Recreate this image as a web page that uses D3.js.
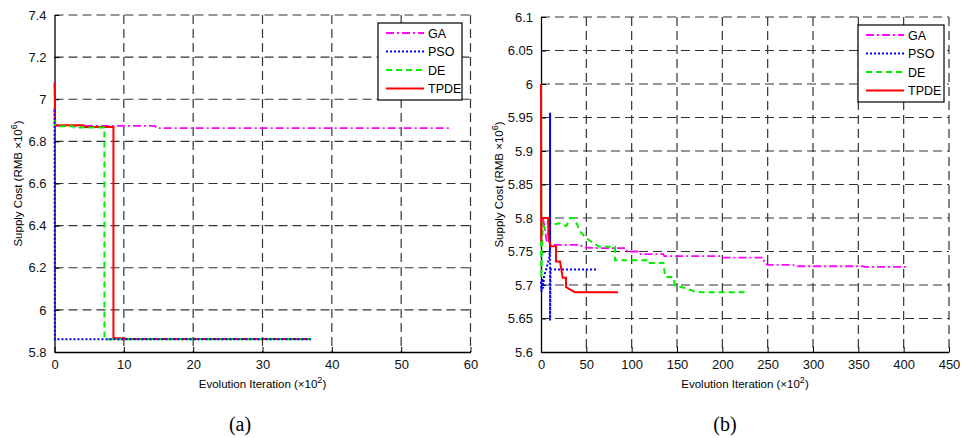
<!DOCTYPE html>
<html>
<head>
<meta charset="utf-8">
<script src="https://cdnjs.cloudflare.com/ajax/libs/d3/7.8.5/d3.min.js"></script>
<style>
  body { margin: 0; background: #fff; }
</style>
</head>
<body>
<div id="chart"></div>
<script>
// series names, in legend order
const seriesNames = ['GA', 'PSO', 'DE', 'TPDE'];

// panel (a) tick values
const xTicksA = [0, 10, 20, 30, 40, 50, 60];
const yTicksA = [5.8, 6, 6.2, 6.4, 6.6, 6.8, 7, 7.2, 7.4];

// panel (a) convergence traces [iteration x100, cost x10^6]
const gaA   = [[0, 6.96], [0.1, 6.874], [14.5, 6.874], [14.7, 6.863], [57, 6.863]];
const psoA  = [[0, 6.95], [0.05, 5.861], [37, 5.861]];
const deA   = [[0, 6.90], [0.1, 6.872], [2.7, 6.872], [2.8, 6.866], [7.2, 6.866], [7.2, 5.861], [37, 5.861]];
const tpdeA = [[0, 7.08], [0.1, 6.876], [4.2, 6.876], [4.3, 6.868], [8.5, 6.868], [8.5, 5.865], [10, 5.865], [10, 5.862], [37, 5.862]];

// panel (b) tick values
const xTicksB = [0, 50, 100, 150, 200, 250, 300, 350, 400, 450];
const yTicksB = [5.6, 5.65, 5.7, 5.75, 5.8, 5.85, 5.9, 5.95, 6, 6.05, 6.1];

// panel (b) convergence traces
const gaB = [[2, 5.80], [4, 5.787], [6, 5.767], [8, 5.762], [13, 5.760], [43, 5.760], [47, 5.756],
  [65, 5.755], [94, 5.755], [95, 5.750], [109, 5.750], [110, 5.746], [135, 5.746], [136, 5.743],
  [199, 5.743], [200, 5.741], [245, 5.741], [247, 5.732], [250, 5.730], [278, 5.730], [280, 5.728],
  [355, 5.728], [357, 5.727], [404, 5.727]];
const psoB = [[0, 5.705], [0.5, 5.69], [1.5, 5.71], [2.5, 5.695], [3.5, 5.715], [5, 5.72], [7, 5.73],
  [9, 5.74], [10, 5.757], [10, 5.957], [10, 5.647], [10.5, 5.723], [63, 5.723]];
const deB = [[0, 5.90], [0.3, 5.71], [1, 5.75], [2, 5.79], [4, 5.785], [6, 5.79], [8, 5.795],
  [12, 5.79], [20, 5.792], [28, 5.788], [32, 5.80], [36, 5.80], [40, 5.79], [43, 5.78], [50, 5.77],
  [58, 5.762], [65, 5.757], [81.6, 5.757], [81.6, 5.737], [118, 5.737], [118, 5.733], [135, 5.733],
  [137, 5.712], [145.6, 5.712], [148, 5.699], [160, 5.695], [168, 5.691], [178, 5.689], [228, 5.689]];
const tpdeB = [[0, 6.0], [0.2, 5.765], [0.6, 5.80], [8, 5.80], [8, 5.775], [9, 5.765], [11, 5.758],
  [16.5, 5.758], [16.5, 5.735], [21, 5.735], [23.9, 5.711], [27.6, 5.711], [27.6, 5.697], [30, 5.695],
  [37.5, 5.689], [85, 5.689]];

const styles = {
  GA:   { color: '#ff00ff', dash: '8,3,2,3', width: 1.8 },
  PSO:  { color: '#0000ff', dash: '2,2', width: 2 },
  DE:   { color: '#00ee00', dash: '6,4', width: 2 },
  TPDE: { color: '#ff0000', dash: null, width: 2 }
};

const sans = 'Arial, "Liberation Sans", sans-serif';

const svg = d3.select('#chart').append('svg')
  .attr('width', 962)
  .attr('height', 438)
  .style('font-family', sans);

function drawPanel(p) {
  const x = d3.scaleLinear().domain(d3.extent(p.xTicks)).range([p.left, p.right]);
  const y = d3.scaleLinear().domain(d3.extent(p.yTicks)).range([p.bottom, p.top]);
  const g = svg.append('g');

  // dashed grid
  g.selectAll('.vg').data(p.xTicks.slice(1)).enter().append('line')
    .attr('x1', d => x(d)).attr('x2', d => x(d))
    .attr('y1', p.top).attr('y2', p.bottom)
    .attr('stroke', '#333').attr('stroke-width', 1.2).attr('stroke-dasharray', '9,5');
  g.selectAll('.hg').data(p.yTicks.slice(1)).enter().append('line')
    .attr('x1', p.left).attr('x2', p.right)
    .attr('y1', d => y(d)).attr('y2', d => y(d))
    .attr('stroke', '#333').attr('stroke-width', 1.2).attr('stroke-dasharray', '9,5');

  // axes, ticks pointing inwards
  const xAxis = d3.axisBottom(x).tickValues(p.xTicks).tickSizeInner(-5).tickSizeOuter(0).tickPadding(8);
  const yAxis = d3.axisLeft(y).tickValues(p.yTicks).tickSizeInner(-5).tickSizeOuter(0).tickPadding(8)
    .tickFormat(d => String(+d.toFixed(2)));
  const gx = g.append('g').attr('transform', `translate(0,${p.bottom})`).call(xAxis);
  const gy = g.append('g').attr('transform', `translate(${p.left},0)`).call(yAxis);
  [gx, gy].forEach(a => {
    a.attr('font-family', sans);
    a.selectAll('text').attr('font-size', 13).attr('fill', '#111');
    a.select('.domain').attr('stroke', '#000').attr('stroke-width', 1.3);
    a.selectAll('.tick line').attr('stroke', '#000');
  });

  // series
  const line = d3.line().x(d => x(d[0])).y(d => y(d[1]));
  p.order.forEach(name => {
    const st = styles[name];
    g.append('path')
      .datum(p.data[name])
      .attr('d', line)
      .attr('fill', 'none')
      .attr('stroke', st.color)
      .attr('stroke-width', st.width)
      .attr('stroke-dasharray', st.dash);
  });

  // legend
  const lg = g.append('g').attr('transform', `translate(${p.legend[0]},${p.legend[1]})`);
  lg.append('rect').attr('width', p.legend[2]).attr('height', 77)
    .attr('fill', '#fff').attr('stroke', '#000').attr('stroke-width', 1.2);
  seriesNames.forEach((name, i) => {
    const st = styles[name];
    const ly = 10 + i * 18.5;
    lg.append('line').attr('x1', 8).attr('x2', 46).attr('y1', ly).attr('y2', ly)
      .attr('stroke', st.color).attr('stroke-width', st.width).attr('stroke-dasharray', st.dash);
    lg.append('text').attr('x', 50).attr('y', ly + 4.5).attr('font-size', 12.5).text(name);
  });

  // axis titles
  const yl = g.append('text')
    .attr('transform', `translate(${p.yLabelX},${(p.top + p.bottom) / 2}) rotate(-90)`)
    .attr('text-anchor', 'middle').attr('font-size', 11.5);
  yl.append('tspan').text('Supply Cost (RMB \u00d710');
  yl.append('tspan').attr('dy', -5).attr('font-size', 9).text('6');
  yl.append('tspan').attr('dy', 5).text(')');

  const xl = g.append('text')
    .attr('x', (p.left + p.right) / 2).attr('y', 388)
    .attr('text-anchor', 'middle').attr('font-size', 11.5);
  xl.append('tspan').text('Evolution Iteration (\u00d710');
  xl.append('tspan').attr('dy', -5).attr('font-size', 9).text('2');
  xl.append('tspan').attr('dy', 5).text(')');

  g.append('text')
    .attr('x', p.captionX).attr('y', 431)
    .attr('text-anchor', 'middle')
    .style('font-family', '"Liberation Serif", "Times New Roman", serif')
    .attr('font-size', 20)
    .text(p.caption);
}

drawPanel({
  left: 54.5, right: 470.5, top: 15, bottom: 352,
  xTicks: xTicksA, yTicks: yTicksA,
  data: { GA: gaA, PSO: psoA, DE: deA, TPDE: tpdeA },
  order: ['GA', 'TPDE', 'DE', 'PSO'],
  legend: [378, 23, 84], yLabelX: 22, caption: '(a)', captionX: 240
});

drawPanel({
  left: 541, right: 949, top: 17, bottom: 352,
  xTicks: xTicksB, yTicks: yTicksB,
  data: { GA: gaB, PSO: psoB, DE: deB, TPDE: tpdeB },
  order: ['GA', 'DE', 'PSO', 'TPDE'],
  legend: [858, 25, 86], yLabelX: 503, caption: '(b)', captionX: 725
});
</script>
</body>
</html>
